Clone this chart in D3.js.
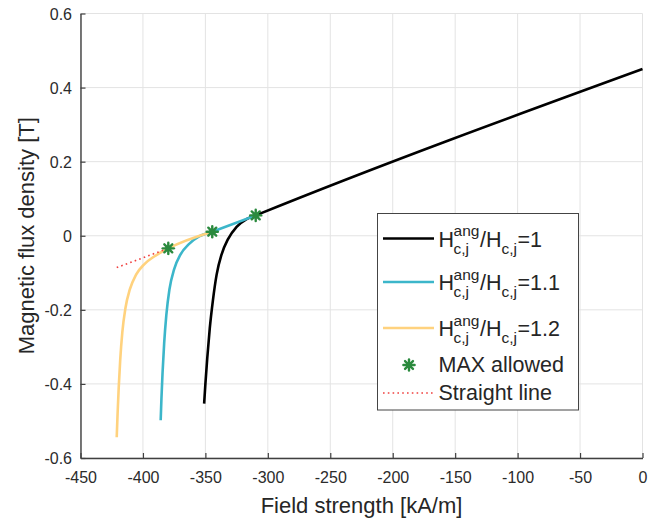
<!DOCTYPE html>
<html>
<head>
<meta charset="utf-8">
<script src="https://cdn.jsdelivr.net/npm/d3@7"></script>
<style>
  html, body { margin: 0; padding: 0; background: #fff; }
  svg { display: block; font-family: "Liberation Sans", Arial, sans-serif; }
</style>
</head>
<body>
<svg id="chart" width="660" height="521"></svg>
<script>
// ---------- data (H in kA/m, B in T) ----------
const xTicks = [-450, -400, -350, -300, -250, -200, -150, -100, -50, 0];
const xTickLabels = ["-450", "-400", "-350", "-300", "-250", "-200", "-150", "-100", "-50", "0"];
const yTicks = [0.6, 0.4, 0.2, 0, -0.2, -0.4, -0.6];
const yTickLabels = ["0.6", "0.4", "0.2", "0", "-0.2", "-0.4", "-0.6"];

const curve1 = [[-351, -0.453], [-350, -0.40], [-348.5, -0.33], [-346.5, -0.25], [-344, -0.175],
  [-341, -0.105], [-337, -0.050], [-332, -0.010], [-325, 0.024], [-317, 0.045], [-309.7, 0.055], [0, 0.45]];
const curve11 = [[-385.8, -0.498], [-385.2, -0.44], [-384.3, -0.37], [-383, -0.29], [-381.3, -0.215],
  [-378.8, -0.145], [-375, -0.09], [-370, -0.051], [-363, -0.022], [-355, -0.002], [-344.5, 0.011],
  [-309.7, 0.055]];
const curve12 = [[-421, -0.544], [-420.3, -0.48], [-419.4, -0.41], [-418.2, -0.335], [-416.5, -0.26],
  [-414, -0.195], [-410.5, -0.145], [-405.5, -0.105], [-399, -0.077], [-391, -0.056],
  [-379.7, -0.034], [-344.5, 0.011]];
const maxAllowed = [[-309.7, 0.055], [-344.5, 0.011], [-379.7, -0.034]];
const straightLine = [[-421, -0.086], [-379.7, -0.034]];

const seriesNames = ["=1", "=1.1", "=1.2"];
const otherNames = ["MAX allowed", "Straight line"];

// ---------- layout ----------
const svg = d3.select("#chart");
const L = 80.5, R = 642.5, T = 13.5, B = 458;
const x = d3.scaleLinear().domain([-450, 0]).range([L, R]);
const y = d3.scaleLinear().domain([-0.6, 0.6]).range([B, T]);

svg.append("rect").attr("width", 660).attr("height", 521).attr("fill", "#fff");

// grid
const grid = svg.append("g");
grid.selectAll(".gx").data(xTicks).join("line")
  .attr("x1", d => x(d)).attr("x2", d => x(d)).attr("y1", T).attr("y2", B)
  .attr("stroke", "#e3e3e3").attr("stroke-width", 1);
grid.selectAll(".gy").data(yTicks).join("line")
  .attr("y1", d => y(d)).attr("y2", d => y(d)).attr("x1", L).attr("x2", R)
  .attr("stroke", "#e3e3e3").attr("stroke-width", 1);

// axes
const xAxis = d3.axisBottom(x).tickValues(xTicks)
  .tickFormat((d, i) => xTickLabels[i]).tickSizeInner(-5).tickSizeOuter(0).tickPadding(14);
const yAxis = d3.axisLeft(y).tickValues(yTicks)
  .tickFormat((d, i) => yTickLabels[i]).tickSizeInner(-5).tickSizeOuter(0).tickPadding(14);

const gx = svg.append("g").attr("transform", `translate(0,${B})`).call(xAxis);
const gy = svg.append("g").attr("transform", `translate(${L},0)`).call(yAxis);
[gx, gy].forEach(g => {
  g.select(".domain").attr("stroke", "#404040").attr("stroke-width", 1.4);
  g.selectAll(".tick line").attr("stroke", "#404040").attr("stroke-width", 1.2);
  g.selectAll(".tick text").attr("fill", "#2b2b2b").attr("font-size", 16)
    .attr("font-family", "Liberation Sans, Arial, sans-serif");
});
gx.selectAll(".tick text").attr("dy", "0.71em");
gy.selectAll(".tick text").attr("x", -8.5).attr("dy", "0.35em");

// axis titles
svg.append("text").attr("x", (L + R) / 2).attr("y", 513)
  .attr("text-anchor", "middle").attr("font-size", 22).attr("fill", "#262626")
  .text("Field strength [kA/m]");
svg.append("text").attr("transform", `translate(33.5,${(T + B) / 2}) rotate(-90)`)
  .attr("text-anchor", "middle").attr("font-size", 22).attr("fill", "#262626")
  .text("Magnetic flux density [T]");

// curves
const line = d3.line().x(d => x(d[0])).y(d => y(d[1])).curve(d3.curveMonotoneX);
const colors = ["#000000", "#3cb6ca", "#ffd27e"];
const plot = svg.append("g");
plot.append("path").datum(curve1).attr("d", line).attr("fill", "none")
  .attr("stroke", colors[0]).attr("stroke-width", 2.6);
plot.append("path").datum(curve11).attr("d", line).attr("fill", "none")
  .attr("stroke", colors[1]).attr("stroke-width", 2.6);
plot.append("path").datum(curve12).attr("d", line).attr("fill", "none")
  .attr("stroke", colors[2]).attr("stroke-width", 2.6);
plot.append("path").datum(straightLine).attr("d", d3.line().x(d => x(d[0])).y(d => y(d[1])))
  .attr("fill", "none").attr("stroke", "#f0403f").attr("stroke-width", 1.6)
  .attr("stroke-dasharray", "1.6,3.2");

function marker(g, cx, cy) {
  const m = g.append("g").attr("transform", `translate(${cx},${cy})`);
  m.append("circle").attr("r", 3.2).attr("fill", "#2b8a3e");
  [0, 45, 90, 135].forEach(a => {
    const r = 5.6, rad = a * Math.PI / 180;
    m.append("line").attr("x1", -r * Math.cos(rad)).attr("y1", -r * Math.sin(rad))
      .attr("x2", r * Math.cos(rad)).attr("y2", r * Math.sin(rad))
      .attr("stroke", "#2b8a3e").attr("stroke-width", 2.4).attr("stroke-linecap", "round");
  });
}
maxAllowed.forEach(d => marker(plot, x(d[0]), y(d[1])));

// legend
const lg = svg.append("g");
lg.append("rect").attr("x", 377.5).attr("y", 213.5).attr("width", 201).attr("height", 196.5)
  .attr("fill", "#fff").attr("stroke", "#444").attr("stroke-width", 1);

const rowY = [238.5, 282, 328, 365, 393];
const FS = 21.5, SFS = 15.5;
function addText(g, txt, xx, yy, size) {
  const t = g.append("text").attr("x", xx).attr("y", yy).attr("font-size", size)
    .attr("fill", "#262626").text(txt);
  return t.node().getComputedTextLength();
}
function hLabel(g, xx, base, suffix) {
  let cx = xx;
  cx += addText(g, "H", cx, base, FS) - 0.5;
  const w1 = addText(g, "ang", cx, base - 10.4, SFS);
  const w2 = addText(g, "c,j", cx, base + 7, SFS);
  cx += Math.max(w1, w2) + 0.5;
  cx += addText(g, "/H", cx, base, FS);
  cx += addText(g, "c,j", cx, base + 7, SFS) + 0.5;
  addText(g, suffix, cx, base, FS);
}
seriesNames.forEach((s, i) => {
  lg.append("line").attr("x1", 383).attr("x2", 434).attr("y1", rowY[i]).attr("y2", rowY[i])
    .attr("stroke", colors[i]).attr("stroke-width", 2.6);
  hLabel(lg, 438.5, rowY[i] + 8.2, s);
});
marker(lg, 409, rowY[3]);
addText(lg, otherNames[0], 438.5, rowY[3] + 7.4, FS);
lg.append("line").attr("x1", 383).attr("x2", 434).attr("y1", rowY[4]).attr("y2", rowY[4])
  .attr("stroke", "#f0403f").attr("stroke-width", 1.6).attr("stroke-dasharray", "1.6,3.2");
addText(lg, otherNames[1], 438.5, rowY[4] + 7.4, FS);
</script>
</body>
</html>
